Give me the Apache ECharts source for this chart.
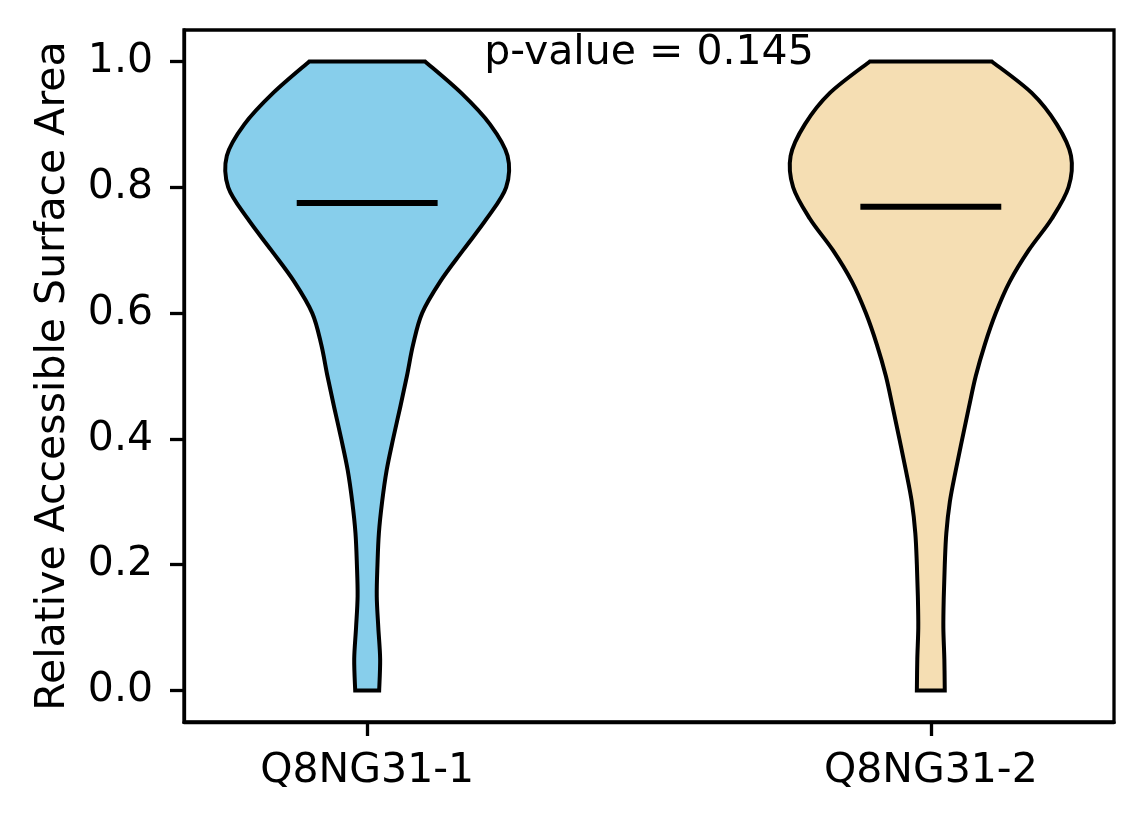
<!DOCTYPE html>
<html>
<head>
    <meta charset="utf-8">
    <title>Relative Accessible Surface Area</title>
    <script src="https://cdn.jsdelivr.net/npm/echarts@6/dist/echarts.min.js"></script>
    <style>
        html, body {
            margin: 0;
            padding: 0;
            background: #fff;
        }

        #main {
            width: 1144px;
            height: 824px;
        }
    </style>
</head>
<body>
<div id="main"></div>
<script>
    // 类别和位置
    var categories = ['Q8NG31-1', 'Q8NG31-2'];
    var positions = [1, 2];
    var colors = ['#87CEEB', '#F5DEB3'];

    // 密度曲线的 y 网格 (0 到 1, 步长 0.05)
    var densityY = [0, 0.05, 0.10, 0.15, 0.20, 0.25, 0.30, 0.35, 0.40, 0.45, 0.50,
        0.55, 0.60, 0.65, 0.70, 0.75, 0.80, 0.85, 0.90, 0.95, 1.00];

    // 归一化后的核密度 (最大值 = 1)
    var density1 = [0.085, 0.092, 0.079, 0.068, 0.073, 0.083, 0.106, 0.138, 0.184, 0.234, 0.282,
        0.326, 0.390, 0.518, 0.681, 0.848, 0.986, 0.996, 0.872, 0.667, 0.411];
    var density2 = [0.099, 0.096, 0.089, 0.092, 0.099, 0.110, 0.135, 0.177, 0.223, 0.270, 0.319,
        0.383, 0.461, 0.560, 0.695, 0.858, 0.977, 0.995, 0.894, 0.716, 0.433];
    var densities = [density1, density2];

    // 均值
    var means = [0.775, 0.769];

    // y 轴刻度
    var yTicks = [0, 0.2, 0.4, 0.6, 0.8, 1.0];

    var pText = 'p-value = 0.145';

    var violinWidth = 0.5;

    // Catmull-Rom 转贝塞尔, 让边缘平滑
    function smoothPath(pts, start) {
        var d = start ? 'M' + pts[0][0] + ',' + pts[0][1] : 'L' + pts[0][0] + ',' + pts[0][1];
        for (var i = 0; i < pts.length - 1; i++) {
            var p0 = pts[i - 1] || pts[i];
            var p1 = pts[i];
            var p2 = pts[i + 1];
            var p3 = pts[i + 2] || p2;
            var c1x = p1[0] + (p2[0] - p0[0]) / 6;
            var c1y = p1[1] + (p2[1] - p0[1]) / 6;
            var c2x = p2[0] - (p3[0] - p1[0]) / 6;
            var c2y = p2[1] - (p3[1] - p1[1]) / 6;
            d += 'C' + c1x + ',' + c1y + ',' + c2x + ',' + c2y + ',' + p2[0] + ',' + p2[1];
        }
        return d;
    }

    function renderViolin(params, api) {
        var idx = params.dataIndex;
        var pos = api.value(0);
        var dens = densities[idx];
        var half = violinWidth / 2;
        var left = [], right = [];
        for (var i = densityY.length - 1; i >= 0; i--) {
            left.push(api.coord([pos - dens[i] * half, densityY[i]]));
        }
        for (var j = 0; j < densityY.length; j++) {
            right.push(api.coord([pos + dens[j] * half, densityY[j]]));
        }
        var pathData = smoothPath(left, true) + smoothPath(right, false) + 'Z';

        var m1 = api.coord([pos - half / 2, means[idx]]);
        var m2 = api.coord([pos + half / 2, means[idx]]);

        return {
            type: 'group',
            children: [
                {
                    type: 'path',
                    shape: {pathData: pathData},
                    style: {fill: colors[idx], stroke: '#000', lineWidth: 4}
                },
                {
                    type: 'line',
                    shape: {x1: m1[0], y1: m1[1], x2: m2[0], y2: m2[1]},
                    style: {stroke: '#000', lineWidth: 6}
                }
            ]
        };
    }

    var myChart = echarts.init(document.getElementById('main'));

    var option = {
        animation: false,
        textStyle: {fontFamily: 'DejaVu Sans'},
        grid: {
            left: 184,
            right: 30,
            top: 30,
            bottom: 102,
            show: true,
            borderColor: '#000',
            borderWidth: 3.3
        },
        xAxis: {
            type: 'value',
            min: 0.675,
            max: 2.325,
            splitLine: {show: false},
            axisLine: {show: true, onZero: false, lineStyle: {color: '#000', width: 3.3}},
            axisTick: {show: true, length: 14, lineStyle: {color: '#000', width: 3.3}, customValues: positions},
            axisLabel: {
                color: '#000',
                fontSize: 41,
                margin: 29,
                customValues: positions,
                formatter: function (v) {
                    return categories[positions.indexOf(v)];
                }
            }
        },
        yAxis: {
            type: 'value',
            min: -0.05,
            max: 1.05,
            name: 'Relative Accessible Surface Area',
            nameLocation: 'middle',
            nameGap: 110,
            nameTextStyle: {color: '#000', fontSize: 41},
            splitLine: {show: false},
            axisLine: {show: true, onZero: false, lineStyle: {color: '#000', width: 3.3}},
            axisTick: {show: true, length: 14, lineStyle: {color: '#000', width: 3.3}, customValues: yTicks},
            axisLabel: {
                color: '#000',
                fontSize: 41,
                margin: 31,
                customValues: yTicks,
                formatter: function (v) {
                    return v.toFixed(1);
                }
            }
        },
        series: [
            {
                type: 'custom',
                renderItem: renderViolin,
                data: positions.map(function (p) {
                    return [p];
                }),
                z: 2
            }
        ]
    };
    myChart.setOption(option);

    // p 值标注, 放在两组中间 y = 1.0 处
    var pPos = myChart.convertToPixel({gridIndex: 0}, [(positions[0] + positions[1]) / 2, 1.0]);
    myChart.setOption({
        graphic: [{
            type: 'text',
            x: pPos[0],
            y: pPos[1] - 8,
            style: {
                text: pText,
                fontSize: 41,
                fontFamily: 'DejaVu Sans',
                fill: '#000',
                align: 'center',
                verticalAlign: 'middle'
            },
            z: 10
        }]
    });
</script>
</body>
</html>
